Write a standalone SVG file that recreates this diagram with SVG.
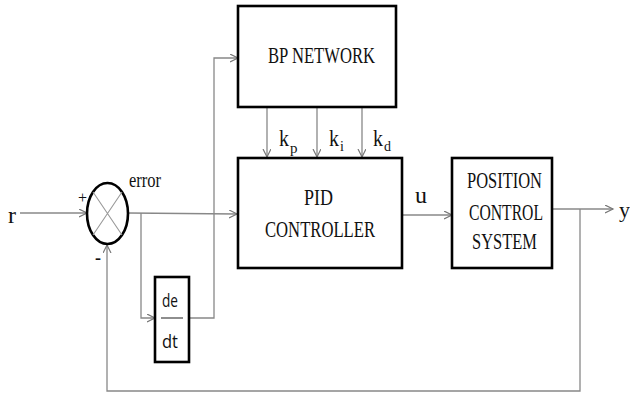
<svg xmlns="http://www.w3.org/2000/svg" width="630" height="394" viewBox="0 0 630 394">
<defs>
<marker id="ah" markerWidth="10" markerHeight="10" refX="8" refY="4" orient="auto" markerUnits="userSpaceOnUse">
<path d="M0,0 L8,4 L0,8" fill="none" stroke="#777" stroke-width="1.2"/>
</marker>
<style>
.box{fill:#fff;stroke:#000;stroke-width:2.6}
.ln{fill:none;stroke:#888;stroke-width:1.3}
.t{font-family:"Liberation Serif","Times New Roman",serif;fill:#111}
.s{font-family:"Open Sans","DejaVu Sans",sans-serif;fill:#111}
</style>
</defs>
<rect width="630" height="394" fill="#fff"/>
<g id="connectors">
<path class="ln" d="M20,213 L87,213" marker-end="url(#ah)"/>
<path class="ln" d="M128,213 L237,214" marker-end="url(#ah)"/>
<path class="ln" d="M141,213 L141,318 L155,318" marker-end="url(#ah)"/>
<path class="ln" d="M189,318 L214,318 L214,58 L238,58" marker-end="url(#ah)"/>
<path class="ln" d="M267,107 L267,157" marker-end="url(#ah)"/>
<path class="ln" d="M317,107 L317,157" marker-end="url(#ah)"/>
<path class="ln" d="M362,107 L362,157" marker-end="url(#ah)"/>
<path class="ln" d="M402,215 L452,215" marker-end="url(#ah)"/>
<path class="ln" d="M552,209 L613,209" marker-end="url(#ah)"/>
<path class="ln" d="M580,209 L580,391 L107,391 L107,245" marker-end="url(#ah)"/>
</g>
<g id="sum">
<ellipse cx="107.5" cy="213.5" rx="20.5" ry="30.5" fill="#fff" stroke="#000" stroke-width="2.6"/>
<path d="M93,192 L122,235 M122,192 L93,235" stroke="#999" stroke-width="1.1"/>
</g>
<g id="bp">
<rect class="box" x="238" y="6" width="158" height="101"/>
<text class="t" x="268" y="63" font-size="24" textLength="107" lengthAdjust="spacingAndGlyphs">BP NETWORK</text>
</g>
<g id="pid">
<rect class="box" x="238" y="158" width="164" height="110"/>
<text class="t" x="304" y="205" font-size="23" textLength="29" lengthAdjust="spacingAndGlyphs">PID</text>
<text class="t" x="265" y="237" font-size="23" textLength="110" lengthAdjust="spacingAndGlyphs">CONTROLLER</text>
</g>
<g id="plant">
<rect class="box" x="452" y="158" width="100" height="110"/>
<text class="t" x="467" y="188" font-size="23" textLength="75" lengthAdjust="spacingAndGlyphs">POSITION</text>
<text class="t" x="469" y="220" font-size="23" textLength="74" lengthAdjust="spacingAndGlyphs">CONTROL</text>
<text class="t" x="472" y="249" font-size="23" textLength="65" lengthAdjust="spacingAndGlyphs">SYSTEM</text>
</g>
<g id="deriv">
<rect class="box" x="155" y="277" width="34" height="85"/>
<path d="M161,318 L183,318" stroke="#444" stroke-width="1.2"/>
<text class="s" x="162" y="307" font-size="19" textLength="16" lengthAdjust="spacingAndGlyphs">de</text>
<text class="s" x="162" y="348" font-size="19" textLength="16" lengthAdjust="spacingAndGlyphs">dt</text>
</g>
<g id="labels">
<text class="t" x="8" y="223" font-size="24">r</text>
<text class="t" x="78" y="203" font-size="16">+</text>
<text class="t" x="95" y="264" font-size="18" font-weight="bold">-</text>
<text class="t" x="129" y="187" font-size="22" textLength="32" lengthAdjust="spacingAndGlyphs">error</text>
<text class="t" x="279" y="146" font-size="23" textLength="10" lengthAdjust="spacingAndGlyphs">k</text>
<text class="t" x="290" y="153" font-size="15">p</text>
<text class="t" x="329" y="146" font-size="23" textLength="10" lengthAdjust="spacingAndGlyphs">k</text>
<text class="t" x="340" y="151" font-size="14">i</text>
<text class="t" x="373" y="146" font-size="23" textLength="10" lengthAdjust="spacingAndGlyphs">k</text>
<text class="t" x="384" y="151" font-size="14">d</text>
<text class="t" x="415" y="203" font-size="23" textLength="12" lengthAdjust="spacingAndGlyphs">u</text>
<text class="t" x="619" y="217" font-size="22">y</text>
</g>
</svg>
